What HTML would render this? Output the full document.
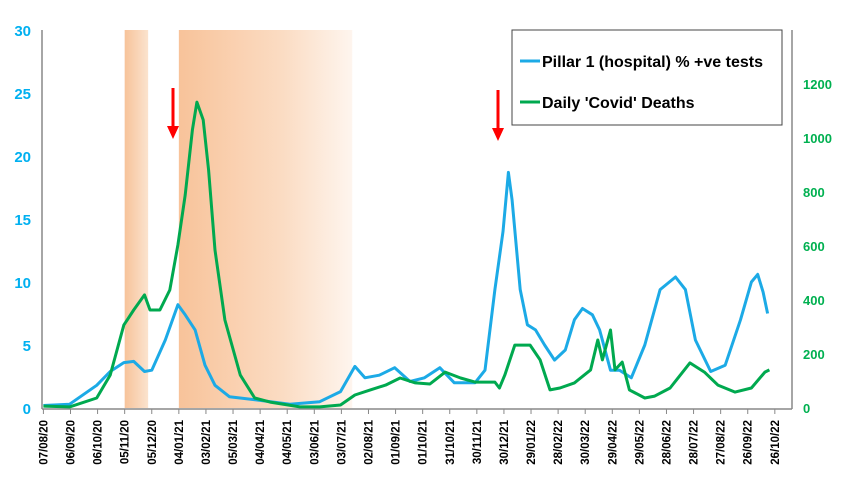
<!DOCTYPE html>
<html><head><meta charset="utf-8"><style>
body{margin:0;background:#fff;}
svg{display:block;font-family:"Liberation Sans",sans-serif;}
</style></head><body>
<svg id="chart" width="845" height="481">
<defs>
<linearGradient id="g1" x1="0" x2="1" y1="0" y2="0"><stop offset="0" stop-color="#F7C39A"/><stop offset="1" stop-color="#FBE3CE"/></linearGradient>
<linearGradient id="g2" x1="0" x2="1" y1="0" y2="0"><stop offset="0" stop-color="#F8C39A"/><stop offset="0.6" stop-color="#FBDCC3"/><stop offset="1" stop-color="#FEF5EE"/></linearGradient>
</defs>
<g id="bands"></g>
<g id="axes"></g>
<g id="series"></g>
<g>
<rect x="512" y="30" width="270" height="95" fill="#fff" stroke="#444" stroke-width="1"/>
<line x1="520" y1="61" x2="540" y2="61" stroke="#1CAAE6" stroke-width="3"/>
<text x="542" y="67" font-size="16" font-weight="bold" fill="#000">Pillar 1 (hospital) % +ve tests</text>
<line x1="520" y1="102" x2="540" y2="102" stroke="#00A94F" stroke-width="3"/>
<text x="542" y="108" font-size="16" font-weight="bold" fill="#000">Daily 'Covid' Deaths</text>
</g>
<g>
<line x1="173" y1="88" x2="173" y2="128" stroke="#F00" stroke-width="3"/>
<polygon points="167,126 179,126 173,139" fill="#F00"/>
</g>
<g>
<line x1="498" y1="90" x2="498" y2="130" stroke="#F00" stroke-width="3"/>
<polygon points="492,128 504,128 498,141" fill="#F00"/>
</g>
</svg>
<script>
const blueDays=[0,29,59,74,89,100,112,120,135,149,157,168,179,190,206,240,273,306,329,345,356,372,389,406,422,439,455,478,489,500,509,515,519,528,536,545,555,566,578,588,597,608,616,628,638,651,666,683,700,711,722,739,755,772,784,791,797,802];
const blueVals=[0.2,0.3,1.8,2.9,3.6,3.7,2.9,3.0,5.4,8.2,7.4,6.2,3.4,1.8,0.9,0.6,0.3,0.5,1.3,3.3,2.4,2.6,3.2,2.1,2.4,3.2,2.0,2.0,3.0,9.4,14,18.7,16.5,9.4,6.6,6.2,5.0,3.8,4.6,7.0,7.9,7.4,6.2,3.0,3.0,2.4,5.0,9.4,10.4,9.4,5.4,2.9,3.4,7.0,10.0,10.6,9.2,7.5];
const greenDays=[0,29,59,74,89,100,112,118,129,140,149,157,165,170,177,183,190,201,218,234,251,284,306,329,345,362,379,395,412,428,445,462,478,500,505,511,522,539,550,561,572,588,606,614,619,628,633,641,649,666,677,694,716,732,747,766,784,799,804];
const greenVals=[7,4,37,122,307,363,419,363,363,437,604,789,1030,1133,1067,881,585,326,122,37,22,4,4,11,48,67,85,111,93,89,133,111,96,96,74,122,233,233,178,67,74,93,141,252,178,289,141,170,67,37,44,74,167,133,85,59,74,133,141];
const leftTicks=[0,5,10,15,20,25,30];
const rightTicks=[0,200,400,600,800,1000,1200];
const dateLabels=["07/08/20","06/09/20","06/10/20","05/11/20","05/12/20","04/01/21","03/02/21","05/03/21","04/04/21","04/05/21","03/06/21","03/07/21","02/08/21","01/09/21","01/10/21","31/10/21","30/11/21","30/12/21","29/01/22","28/02/22","30/03/22","29/04/22","29/05/22","28/06/22","28/07/22","27/08/22","26/09/22","26/10/22"];
const bandDays=[[90,116],[150,342]];

const NS="http://www.w3.org/2000/svg";
const X0=43.4,PXD=0.903,Y0=408,YT=30;
const xs=d=>X0+d*PXD;
const yl=v=>Y0-(Y0-YT)*v/30;
const yr=v=>Y0-(Y0-YT)*v/1400;
function mk(tag,attrs,parent){const e=document.createElementNS(NS,tag);for(const k in attrs)e.setAttribute(k,attrs[k]);parent.appendChild(e);return e;}
const bands=document.getElementById('bands'),axes=document.getElementById('axes'),series=document.getElementById('series');
bandDays.forEach((b,i)=>{
  const r=mk('rect',{x:xs(b[0]),y:YT,width:xs(b[1])-xs(b[0]),height:Y0-YT,fill:i===0?'url(#g1)':'url(#g2)'},bands);
  
  
});
let l=mk('line',{x1:42,y1:YT,x2:42,y2:Y0+1,stroke:'#888','stroke-width':1.5},axes);


l=mk('line',{x1:792,y1:YT,x2:792,y2:Y0+1,stroke:'#888','stroke-width':1.5},axes);


l=mk('line',{x1:42,y1:Y0+1,x2:792,y2:Y0+1,stroke:'#888','stroke-width':1.5},axes);


leftTicks.forEach(v=>{
  const t=mk('text',{x:31,y:yl(v)+6,'text-anchor':'end','font-size':15,'font-weight':'bold',fill:'#00B0F0'},axes);
  t.textContent=v;
  
  
});
rightTicks.forEach(v=>{
  const t=mk('text',{x:803,y:yr(v)+5,'font-size':13,'font-weight':'bold',fill:'#00B050'},axes);
  t.textContent=v;
  
  
});
dateLabels.forEach((s,i)=>{
  const x=xs(i*30);
  const tk=mk('line',{x1:x,y1:Y0+1,x2:x,y2:Y0+6,stroke:'#888','stroke-width':1},axes);
  
  
  const t=mk('text',{x:0,y:0,'text-anchor':'end','font-size':11.5,'font-weight':'bold',fill:'#000',transform:`translate(${x+4},${Y0+12}) rotate(-90)`},axes);
  t.textContent=s;
  
  
});
function path(days,vals,yf){return days.map((d,i)=>(i?'L':'M')+xs(d).toFixed(1)+','+yf(vals[i]).toFixed(1)).join(' ');}
let p=mk('path',{d:path(blueDays,blueVals,yl),fill:'none',stroke:'#1CAAE6','stroke-width':3,'stroke-linejoin':'round'},series);


p=mk('path',{d:path(greenDays,greenVals,yr),fill:'none',stroke:'#00A94F','stroke-width':3,'stroke-linejoin':'round'},series);


</script>
</body></html>
